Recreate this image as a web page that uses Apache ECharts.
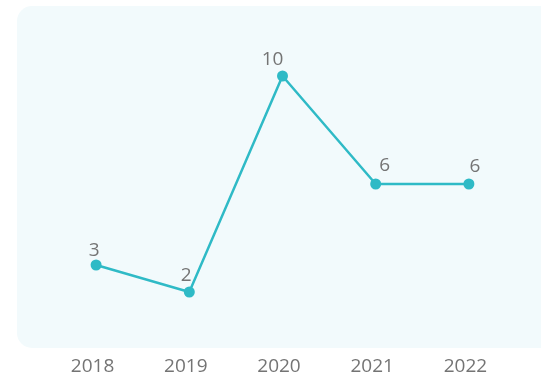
<!DOCTYPE html>
<html>
<head>
<meta charset="utf-8">
<style>
  html, body { margin: 0; padding: 0; background: #ffffff; }
  #chart { width: 541px; height: 377px; }
</style>
<script src="https://cdn.jsdelivr.net/npm/echarts@6/dist/echarts.min.js"></script>
</head>
<body>
<div id="chart"></div>
<script>
// Yearly counts
const years = ['2018', '2019', '2020', '2021', '2022'];
const counts = [3, 2, 10, 6, 6];

// Nudges [dx, dy] for the value labels so they sit clear of the line
const labelShift = [[-2, 2], [-3, 0], [-10, 0], [9, -2], [6, -1]];

const lineColor = '#2fbac6';
const textColor = '#747474';
const fontFamily = '"Open Sans", sans-serif';

const chart = echarts.init(document.getElementById('chart'), null, { renderer: 'canvas' });

chart.setOption({
  animation: false,
  graphic: [{
    type: 'rect',
    z: -10,
    shape: { x: 17, y: 6, width: 560, height: 342, r: 15 },
    style: { fill: '#f2fafc' },
    silent: true
  }],
  grid: { left: 49.5, right: 25.5, top: 22, bottom: 31, containLabel: false },
  xAxis: {
    type: 'category',
    data: years,
    boundaryGap: true,
    axisLine: { show: false },
    axisTick: { show: false },
    axisLabel: {
      color: textColor, fontSize: 19, fontFamily: fontFamily,
      margin: 11, padding: [0, 7, 0, 0]
    }
  },
  yAxis: {
    type: 'value',
    min: 0,
    max: 12,
    interval: 2,
    show: false,
    splitLine: { show: false }
  },
  series: [{
    type: 'line',
    data: counts.map((v, i) => ({
      value: v,
      label: { offset: labelShift[i] }
    })),
    symbol: 'circle',
    symbolSize: 11,
    lineStyle: { color: lineColor, width: 2.5 },
    itemStyle: { color: lineColor },
    label: {
      show: true,
      position: 'top',
      distance: 1,
      color: textColor,
      fontSize: 19,
      fontFamily: fontFamily
    }
  }]
});
</script>
</body>
</html>
